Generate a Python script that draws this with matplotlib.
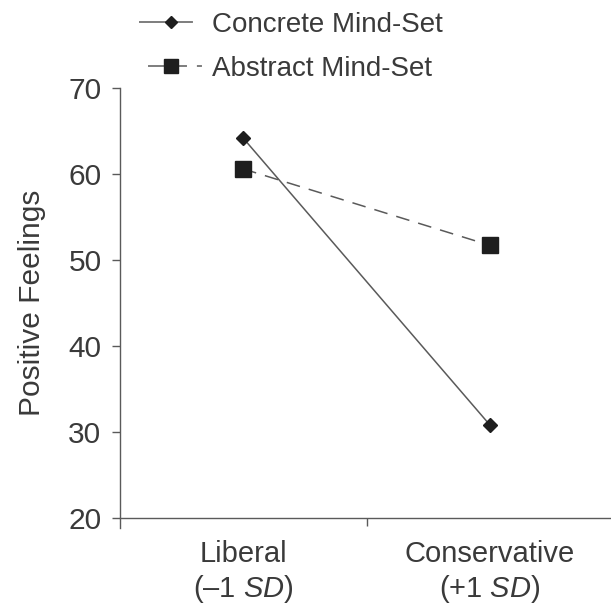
import matplotlib
matplotlib.use("Agg")
import matplotlib.pyplot as plt
from matplotlib.lines import Line2D

plt.rcParams['font.family'] = ['Liberation Sans', 'DejaVu Sans']
plt.rcParams['mathtext.fontset'] = 'custom'
plt.rcParams['mathtext.rm'] = 'Liberation Sans'
plt.rcParams['mathtext.it'] = 'Liberation Sans:italic'

categories = ["Liberal\n(\u20131 $\\mathit{SD}$)", "Conservative\n(+1 $\\mathit{SD}$)"]
concrete = [64.2, 30.8]
abstract = [60.6, 51.7]
yticks = [20, 30, 40, 50, 60, 70]
series_names = ["Concrete Mind-Set", "Abstract Mind-Set"]

TEXT = '#3a3a3a'
LINE = '#5a5a5a'
MARK = '#1e1e1e'

fig = plt.figure(figsize=(6.11, 6.10), dpi=100)
ax = fig.add_axes([119.5/611, 1-528.3/610, 494/611, (528.3-88)/610])

xpos = [1, 3]
ax.plot(xpos, concrete, color=LINE, lw=1.1, marker='D', ms=7.5,
        mfc=MARK, mec=MARK, zorder=3)
ax.plot(xpos, abstract, color=LINE, lw=1.1, dashes=(9, 6), marker='s', ms=11.5,
        mfc=MARK, mec=MARK, zorder=3)

ax.set_xlim(0, 4)
ax.set_ylim(18.8, 70)
ax.spines['top'].set_visible(False)
ax.spines['right'].set_visible(False)
ax.spines['bottom'].set_position(('data', 20))
for s in ('left', 'bottom'):
    ax.spines[s].set_color(LINE)
    ax.spines[s].set_linewidth(1.0)

ax.set_yticks(yticks)
ax.set_yticklabels([str(v) for v in yticks])
ax.tick_params(axis='y', direction='out', length=6, width=1.0, color=LINE,
               labelsize=21.5, labelcolor=TEXT, pad=7)

ax.set_xticks([2])
ax.set_xticklabels([''])
ax.set_xticks(xpos, minor=True)
ax.set_xticklabels(categories, minor=True, linespacing=1.18)
ax.tick_params(axis='x', which='major', direction='out', length=6, width=1.0, color=LINE)
ax.tick_params(axis='x', which='minor', length=0, labelsize=21, labelcolor=TEXT, pad=16)

ax.set_ylabel("Positive Feelings", fontsize=21.5, color=TEXT)
ax.yaxis.set_label_coords(-0.148, 0.513)

handles = [
    Line2D([], [], color=LINE, lw=1.1, linestyle=(0, (35.3, 20)),
           marker='D', ms=6, mfc=MARK, mec=MARK),
    Line2D([], [], color=LINE, lw=1.1, linestyle=(35.3, (25.5, 6.5, 3.3, 5.9)),
           marker='s', ms=9.5, mfc=MARK, mec=MARK),
]
leg = fig.legend(handles, series_names, loc='upper left',
                 bbox_to_anchor=(139/611, 1-12/610), frameon=False,
                 fontsize=20, handlelength=2.27, handletextpad=0.36,
                 labelspacing=0.64, borderpad=0, borderaxespad=0)
for t in leg.get_texts():
    t.set_color(TEXT)

fig.savefig("out.png", dpi=100)
